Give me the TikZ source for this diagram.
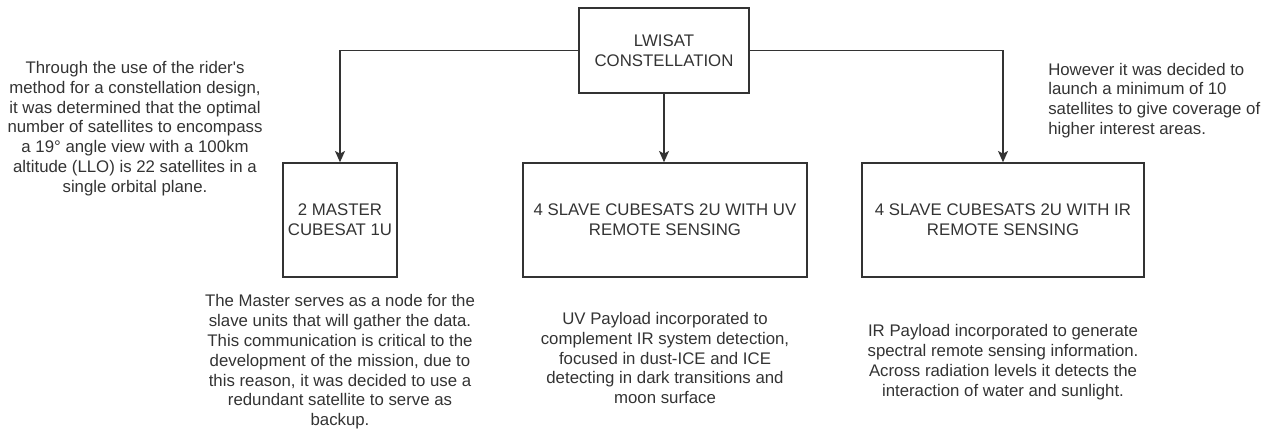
\documentclass[tikz,border=0pt]{standalone}
\usepackage{fontspec}
\setmainfont{Liberation Sans}
\usetikzlibrary{arrows.meta,positioning}

\begin{document}
\begin{tikzpicture}[x=0.75pt,y=-0.75pt,
  txt/.style={text=black!80,font=\fontsize{12.6}{14.85}\selectfont},
  block/.style={draw=black!80,line width=1.05pt,txt,align=center,inner sep=0pt},
  note/.style={txt,align=center,inner sep=0pt},
  link/.style={draw=black!80,line width=1.05pt,
               -{Stealth[length=8.5pt,width=7.5pt,inset=2pt]}}]
  \useasboundingbox (0,0) rectangle (1272,432);
  % Constellation and its three satellite groups.
  \node[block,minimum width=127.5pt,minimum height=63.75pt] (lwisat) at (664,50.5)
    {LWISAT\\CONSTELLATION};
  \node[block,minimum width=85.5pt,minimum height=85.5pt] (master) at (340,220)
    {2 MASTER\\CUBESAT 1U};
  \node[block,minimum width=213pt,minimum height=85.5pt] (uvsat) at (665,220)
    {4 SLAVE CUBESATS 2U WITH UV\\REMOTE SENSING};
  \node[block,minimum width=211.5pt,minimum height=85.5pt] (irsat) at (1003,220)
    {4 SLAVE CUBESATS 2U WITH IR\\REMOTE SENSING};
  \draw[link] (lwisat.west) -| (master.north);
  \draw[link] (lwisat.south) -- (lwisat.south |- uvsat.north);
  \draw[link] (lwisat.east) -| (irsat.north);

  % Notes round the groups.
  \node[note] (design) at (135,128.5)
    {Through the use of the rider\textquotesingle s\\method for a constellation design,\\it was determined that the optimal\\number of satellites to encompass\\a 19° angle view with a 100km\\altitude (LLO) is 22 satellites in a\\single orbital plane.};
  \node[note,align=left,anchor=west] (launch) at (1048,100.5)
    {However it was decided to\\launch a minimum of 10\\satellites to give coverage of\\higher interest areas.};
  \node[note] (masternote) at (340,362)
    {The Master serves as a node for the\\slave units that will gather the data.\\This communication is critical to the\\development of the mission, due to\\this reason, it was decided to use a\\redundant satellite to serve as\\backup.};
  \node[note] (uvnote) at (665,358)
    {UV Payload incorporated to\\complement IR system detection,\\focused in dust-ICE and ICE\\detecting in dark transitions and\\moon surface};
  \node[note] (irnote) at (1003,362)
    {IR Payload incorporated to generate\\spectral remote sensing information.\\Across radiation levels it detects the\\interaction of water and sunlight.};
\end{tikzpicture}
\end{document}
